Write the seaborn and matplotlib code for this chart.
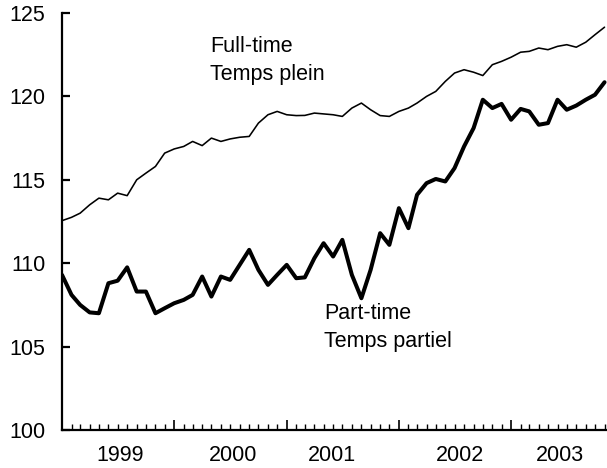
import numpy as np
import pandas as pd
import matplotlib
matplotlib.use("Agg")
import matplotlib.pyplot as plt
import matplotlib.dates as mdates
import matplotlib.transforms as mtransforms
import seaborn as sns

# -------------------------
# Data (monthly index, Jan 1999 - Nov 2003)
# -------------------------

months = pd.date_range("1999-01-01", "2003-11-01", freq="MS")

full_time = [
    112.55, 112.75, 113.0, 113.5, 113.9, 113.8, 114.2, 114.05, 115.0, 115.4,
    115.8, 116.6, 116.85, 117.0, 117.3, 117.05, 117.5, 117.3, 117.45, 117.55,
    117.6, 118.4, 118.9, 119.1, 118.9, 118.85, 118.86, 119.0, 118.95, 118.9,
    118.8, 119.3, 119.6, 119.2, 118.85, 118.8, 119.1, 119.3, 119.6, 120.0,
    120.3, 120.9, 121.4, 121.6, 121.45, 121.25, 121.9, 122.1, 122.35, 122.65,
    122.7, 122.9, 122.8, 123.0, 123.1, 122.95, 123.25, 123.7, 124.15,
]

part_time = [
    109.3, 108.1, 107.5, 107.05, 107.0, 108.8, 108.95, 109.75, 108.3, 108.3,
    107.0, 107.3, 107.6, 107.8, 108.1, 109.2, 108.0, 109.2, 109.0, 109.9,
    110.8, 109.6, 108.7, 109.3, 109.9, 109.1, 109.15, 110.3, 111.2, 110.4,
    111.4, 109.3, 107.9, 109.6, 111.8, 111.1, 113.3, 112.1, 114.1, 114.8,
    115.05, 114.9, 115.7, 117.0, 118.1, 119.8, 119.3, 119.55, 118.6, 119.25,
    119.1, 118.3, 118.4, 119.8, 119.2, 119.45, 119.8, 120.1, 120.85,
]

year_labels = ["1999", "2000", "2001", "2002", "2003"]
year_label_dates = pd.to_datetime(
    ["1999-07-08", "2000-07-09", "2001-05-28", "2002-07-18", "2003-06-09"]
)

df = pd.DataFrame({"month": months, "full": full_time, "part": part_time})

# -------------------------
# Plot
# -------------------------

sns.set_style("ticks")
plt.rcParams["font.family"] = ["Liberation Sans", "DejaVu Sans"]
plt.rcParams["text.color"] = "black"
plt.rcParams["xtick.color"] = "black"
plt.rcParams["ytick.color"] = "black"
plt.rcParams["axes.edgecolor"] = "black"

fig = plt.figure(figsize=(6.07, 4.68), dpi=100)
ax = fig.add_axes([62 / 607, 38 / 468, 545 / 607, 417 / 468])

sns.lineplot(data=df, x="month", y="full", ax=ax, color="black",
             linewidth=1.15, solid_joinstyle="round")
sns.lineplot(data=df, x="month", y="part", ax=ax, color="black",
             linewidth=2.9, solid_joinstyle="round", solid_capstyle="round")

ax.set_xlim(pd.Timestamp("1999-01-01"), pd.Timestamp("2003-11-09"))
ax.set_ylim(100, 125)
ax.set_xlabel("")
ax.set_ylabel("")

sns.despine(ax=ax)
for side in ["left", "bottom"]:
    ax.spines[side].set_linewidth(1.6)

ax.set_yticks([100, 105, 110, 115, 120, 125])
ax.tick_params(axis="y", direction="in", length=6, width=1.6,
               labelsize=15.5, pad=12, labelcolor="black")

ax.xaxis.set_major_locator(mdates.YearLocator())
ax.xaxis.set_minor_locator(mdates.MonthLocator())
ax.xaxis.set_major_formatter(plt.NullFormatter())
ax.tick_params(axis="x", which="major", direction="in", length=7, width=1.2)
ax.tick_params(axis="x", which="minor", direction="in", length=4, width=1.0)

trans = mtransforms.blended_transform_factory(ax.transData, ax.transAxes)
for d, lab in zip(year_label_dates, year_labels):
    ax.text(d, -0.06, lab, transform=trans, ha="center", va="center",
            fontsize=15.5, color="black")

labels = [
    (0.2716, 0.906, "Full-time"),
    (0.2716, 0.839, "Temps plein"),
    (0.481, 0.266, "Part-time"),
    (0.481, 0.199, "Temps partiel"),
]
for x, y, s in labels:
    ax.text(x, y, s, transform=ax.transAxes, ha="left", va="baseline",
            fontsize=15.5, color="black")

fig.savefig("out.png", dpi=100)
